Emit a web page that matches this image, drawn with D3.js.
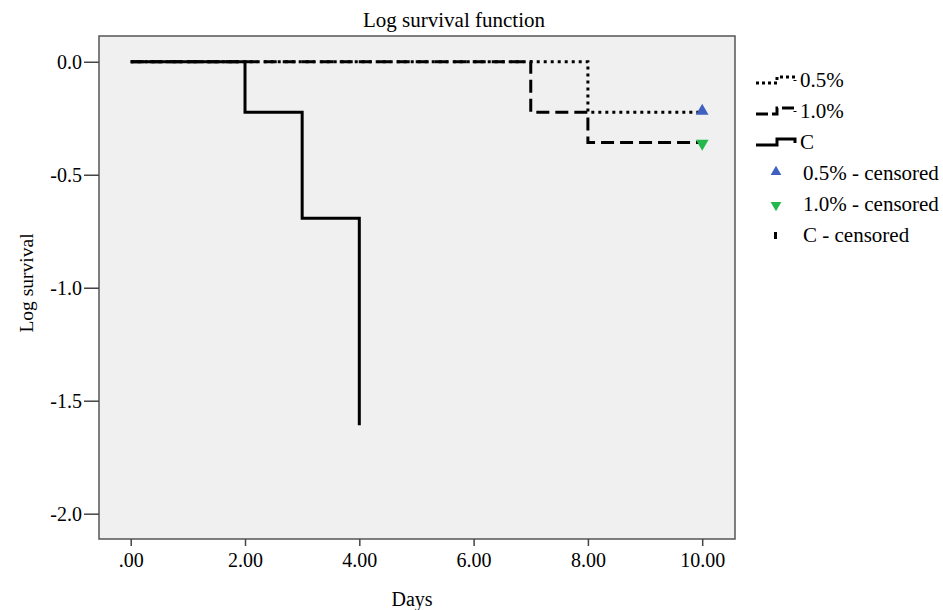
<!DOCTYPE html>
<html>
<head>
<meta charset="utf-8">
<script src="https://cdn.jsdelivr.net/npm/d3@7"></script>
<style>
  body { margin: 0; background: #fff; }
  text { font-family: "Liberation Serif", "Times New Roman", serif; fill: #000; }
</style>
</head>
<body>
<svg class="svg" width="943" height="610"></svg>
<script>
// survival steps (day, log survival) per group
var groups = ['0.5%', '1.0%', 'C'];
var days05 = [0, 8, 10];
var logS05 = [0, -0.223, -0.223];
var days10 = [0, 7, 8, 10];
var logS10 = [0, -0.223, -0.357, -0.357];
var daysC = [0, 2, 3, 4];
var logSC = [0, -0.223, -0.693, -1.609];
var censorDays = [10, 10];
var censorLogS = [-0.223, -0.357];
var xTicks = [0, 2, 4, 6, 8, 10];
var yTicks = [0, -0.5, -1, -1.5, -2];
var legendLabels = ['0.5%', '1.0%', 'C', '0.5% - censored', '1.0% - censored', 'C - censored'];

var svg = d3.select('.svg');
var plotL = 99, plotR = 735, plotT = 36, plotB = 539;

var x = d3.scaleLinear().domain([-0.555, 10.574]).range([plotL, plotR]);
var y = d3.scaleLinear().domain([0.114, -2.112]).range([plotT, plotB]);

// plot background
svg.append('rect')
  .attr('x', plotL).attr('y', plotT)
  .attr('width', plotR - plotL).attr('height', plotB - plotT)
  .attr('fill', '#f0f0f0')
  .attr('stroke', '#555').attr('stroke-width', 1.5);

// axes (hyphen minus like the original)
var xAxis = svg.append('g')
  .attr('transform', 'translate(0,' + plotB + ')')
  .call(d3.axisBottom(x).tickValues(xTicks).tickSize(7).tickFormat(d => d === 0 ? '.00' : d.toFixed(2)));
var yAxis = svg.append('g')
  .attr('transform', 'translate(' + plotL + ',0)')
  .call(d3.axisLeft(y).tickValues(yTicks).tickSize(15).tickFormat(d => d.toFixed(1)));
[xAxis, yAxis].forEach(function (a) {
  a.select('.domain').remove();
  a.selectAll('line').attr('stroke', '#444').attr('stroke-width', 1.5);
  a.selectAll('text').style('font-family', '"Liberation Serif", serif').style('font-size', '20px').attr('fill', '#000');
});
xAxis.selectAll('line').attr('y2', 7);
xAxis.selectAll('text').attr('y', 0).attr('dy', 0).attr('transform', 'translate(0,28)');
yAxis.selectAll('text').attr('x', -17).attr('dy', '0.33em');

// step lines
var step = d3.line().curve(d3.curveStepAfter).x(d => x(d[0])).y(d => y(d[1]));
var plain = d3.line().x(d => x(d[0])).y(d => y(d[1]));
function pairs(a, b) { return a.map((d, i) => [d, b[i]]); }

// C ends with the vertical drop at day 4
var cPath = [];
daysC.forEach(function (d, i) {
  if (i > 0) cPath.push([d, logSC[i - 1]]);
  cPath.push([d, logSC[i]]);
});

svg.append('path')
  .attr('d', plain(cPath))
  .attr('fill', 'none').attr('stroke', '#000').attr('stroke-width', 3);
svg.append('path')
  .attr('d', step(pairs(days10, logS10)))
  .attr('fill', 'none').attr('stroke', '#000').attr('stroke-width', 3)
  .attr('stroke-dasharray', '13,6');
svg.append('path')
  .attr('d', step(pairs(days05, logS05)))
  .attr('fill', 'none').attr('stroke', '#000').attr('stroke-width', 3)
  .attr('stroke-dasharray', '3,4');

// censored markers
var tri = d3.symbol().type(d3.symbolTriangle).size(70);
svg.append('path')
  .attr('d', tri())
  .attr('transform', 'translate(' + x(censorDays[0]) + ',' + (y(censorLogS[0]) - 1) + ')')
  .attr('fill', '#4060c0');
svg.append('path')
  .attr('d', tri())
  .attr('transform', 'translate(' + x(censorDays[1]) + ',' + (y(censorLogS[1]) + 1) + ') rotate(180)')
  .attr('fill', '#22b84a');

// titles
svg.append('text').attr('x', 454).attr('y', 27).attr('text-anchor', 'middle')
  .style('font-size', '21px').text('Log survival function');
svg.append('text').attr('x', 412).attr('y', 606).attr('text-anchor', 'middle')
  .style('font-size', '20px').text('Days');
svg.append('text').attr('transform', 'translate(33,283) rotate(-90)').attr('text-anchor', 'middle')
  .style('font-size', '19.5px').text('Log survival');

// legend
var legend = svg.append('g');
var rowY = [80, 111, 142, 173, 204, 235];
var lineDash = ['3,3', '12,4', null];
for (var i = 0; i < 3; i++) {
  var ly = rowY[i];
  legend.append('path')
    .attr('d', 'M756,' + (ly + 3) + 'H777V' + (ly - 3) + 'H795V' + (ly + 1))
    .attr('fill', 'none').attr('stroke', '#000').attr('stroke-width', 3)
    .attr('stroke-dasharray', lineDash[i]);
}
var triS = d3.symbol().type(d3.symbolTriangle).size(50);
legend.append('path').attr('d', triS())
  .attr('transform', 'translate(776,' + (rowY[3] - 1) + ')').attr('fill', '#4060c0');
legend.append('path').attr('d', triS())
  .attr('transform', 'translate(776,' + (rowY[4] + 1) + ') rotate(180)').attr('fill', '#22b84a');
legend.append('rect').attr('x', 774).attr('y', rowY[5] - 3).attr('width', 3).attr('height', 7).attr('fill', '#000');
legendLabels.forEach(function (t, i) {
  legend.append('text')
    .attr('x', i < 3 ? 800 : 803).attr('y', rowY[i] + 7)
    .style('font-size', '21px').text(t);
});
</script>
</body>
</html>
